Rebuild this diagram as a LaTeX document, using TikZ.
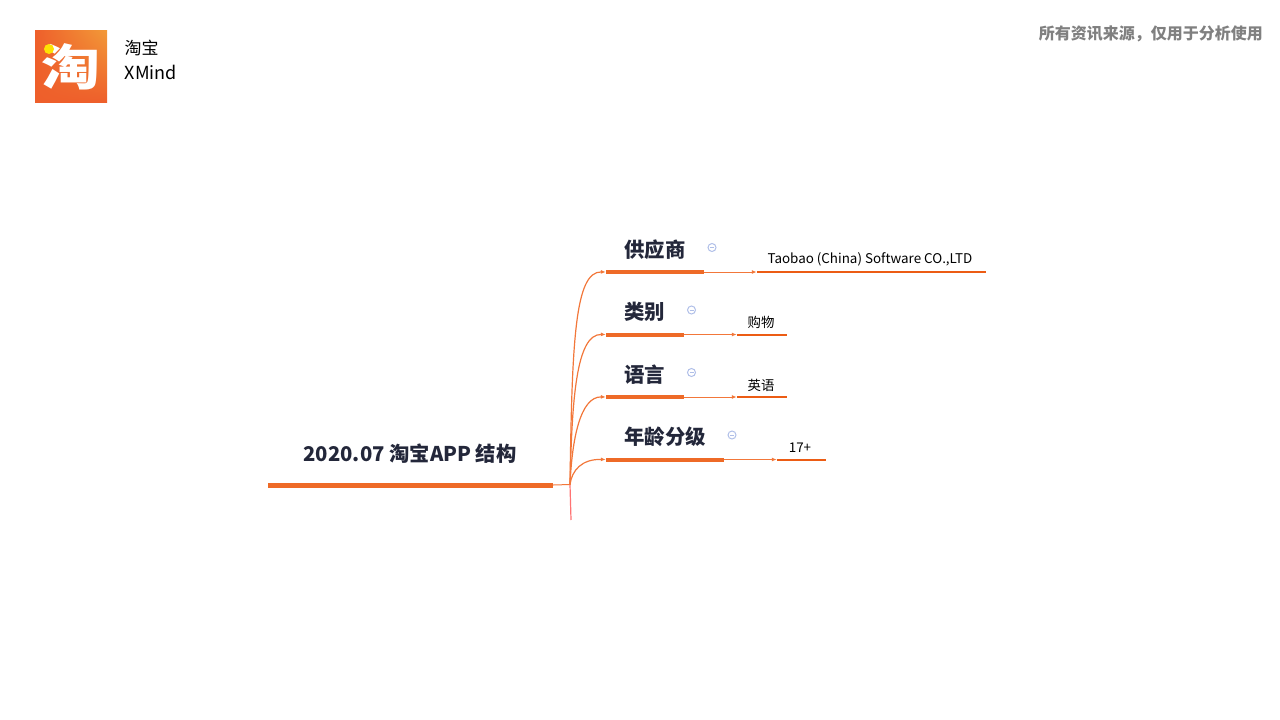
\documentclass[tikz,border=0pt]{standalone}
\usepackage{fontspec}
\setmainfont{Noto Sans CJK SC}
\usetikzlibrary{
    arrows.meta,
    calc,
    positioning,
    shadings
}
\definecolor{tborange}{HTML}{EE6A27}
\definecolor{tbline}{HTML}{F2773A}
\definecolor{tbleaf}{HTML}{EC5C14}
\definecolor{tblogo}{HTML}{EE5F2B}
\definecolor{tblogotop}{HTML}{F29A38}
\definecolor{tbink}{HTML}{23273A}
\definecolor{tbfold}{HTML}{B0BFE8}
\tikzset{rootbar/.style={inner sep=0pt, minimum height=5pt, minimum width=285pt, fill=tborange}}
\tikzset{topicbar/.style={inner sep=0pt, minimum height=4pt, fill=tborange}}
\tikzset{leafbar/.style={inner sep=0pt, minimum height=2pt, fill=tbleaf}}
\tikzset{topictext/.style={inner sep=0pt, anchor=west, text=tbink, font=\fontsize{20.4}{24}\selectfont\bfseries}}
\tikzset{leaftext/.style={inner sep=0pt, text=black, font=\fontsize{13.4}{16}\selectfont}}
\tikzset{foldmark/.style={inner sep=0pt, minimum size=8pt, circle, draw=tbfold, line width=1pt}}
\tikzset{branch/.style={draw=tbline, line width=1.2pt, -{Latex[length=5pt, width=4pt]}}}
\tikzset{thinlink/.style={draw=tbline, line width=1pt, -{Latex[length=5pt, width=4pt]}}}

\begin{document}
\begin{tikzpicture}[x=1pt, y=-1pt]
    \useasboundingbox (0, 0) rectangle (1280, 720);

    % logo
    \shade[lower left=tblogo, lower right=tblogo, upper left=tblogo, upper right=tblogotop]
    (35, 30) rectangle (107, 102);
    \node[inner sep=0pt, text=white, xscale=1.2, font=\fontsize{49}{49}\selectfont\bfseries] (logochar) at (71, 67) {淘};
    \fill[yellow!85!orange] (49, 49) circle (5);

    \node[inner sep=0pt, anchor=west, font=\fontsize{17}{20}\selectfont] (appname) at (124.5, 47.5) {淘宝};
    \node[inner sep=0pt, anchor=west, font=\fontsize{18}{20}\selectfont] (appkind) at (124.5, 72.5) {XMind};
    \node[inner sep=0pt, anchor=east, text=black!50, font=\fontsize{16}{20}\selectfont\bfseries] (source) at (1263, 33.5) {所有资讯来源，仅用于分析使用};

    % root
    \node[inner sep=0pt, text=tbink, font=\fontsize{20.3}{26}\selectfont\bfseries] (roottext) at (410, 453.5) {2020.07 淘宝APP 结构};
    \node[rootbar] (root) at (410.5, 485) {};
    \coordinate (hub) at (570, 484.5);
    \coordinate (tail) at (571, 520);

    % topics
    \node[topicbar, minimum width=98pt] (supplier) at (655, 272) {};
    \node[topicbar, minimum width=78pt] (category) at (645, 334.5) {};
    \node[topicbar, minimum width=78pt] (language) at (645, 397) {};
    \node[topicbar, minimum width=118pt] (agerating) at (665, 459.5) {};

    \node[topictext] (suppliertext) at (624, 249.5) {供应商};
    \node[topictext] (categorytext) at (624, 312) {类别};
    \node[topictext] (languagetext) at (624, 374.5) {语言};
    \node[topictext] (ageratingtext) at (624, 437) {年龄分级};

    \foreach \name/\x/\y in {supplierfold/712/247.5, categoryfold/691.5/310, languagefold/691.5/372.5, agefold/732/435} {
        \node[foldmark] (\name) at (\x, \y) {};
        \draw[tbfold, line width=1pt] ($(\name)+(-2, 0)$) -- ($(\name)+(2, 0)$);
    }

    % leaves
    \node[leafbar, minimum width=229pt] (supplierleaf) at (871.5, 272) {};
    \node[leafbar, minimum width=50pt] (categoryleaf) at (762, 334.5) {};
    \node[leafbar, minimum width=50pt] (languageleaf) at (762, 397) {};
    \node[leafbar, minimum width=49pt] (ageleaf) at (801.5, 459.5) {};

    \node[leaftext] (supplierlabel) at (870, 259.5) {Taobao (China) Software CO.,LTD};
    \node[leaftext] (categorylabel) at (761, 322) {购物};
    \node[leaftext] (languagelabel) at (761, 385) {英语};
    \node[leaftext] (agelabel) at (800, 447.5) {17+};

    \draw[tbline, line width=1pt] (root.east) -- (hub);
    \draw[red!40!pink, line width=1.2pt] (hub) -- (tail);

    \draw[branch] (hub) .. controls (572, 340) and (575, 271.5) .. (supplier.west);
    \draw[branch] (hub) .. controls (572, 400) and (576, 334) .. (category.west);
    \draw[branch] (hub) .. controls (572, 440) and (580, 396.5) .. (language.west);
    \draw[branch] (hub) .. controls (572, 470) and (582, 459) .. (agerating.west);

    \draw[thinlink] (supplier.east) -- (supplierleaf.west);
    \draw[thinlink] (category.east) -- (categoryleaf.west);
    \draw[thinlink] (language.east) -- (languageleaf.west);
    \draw[thinlink] (agerating.east) -- (ageleaf.west);
\end{tikzpicture}
\end{document}
